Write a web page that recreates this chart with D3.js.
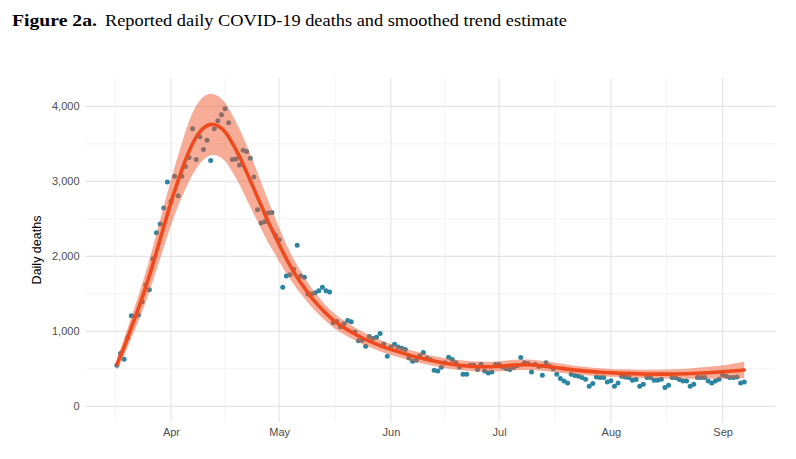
<!DOCTYPE html>
<html><head><meta charset="utf-8">
<script src="https://cdn.jsdelivr.net/npm/d3@7"></script>
<style>body{margin:0;background:#fff;}svg{display:block;}</style>
</head><body><svg id="chart" width="796" height="459"></svg>
<script>
// ---- data ----
const startDate = "2020-03-17";
const deaths = [548,705,629,914,1208,1200,1217,1396,1619,1556,
1966,2314,2431,2645,2993,2733,3068,2809,3068,3200,
3318,3701,3291,3595,3425,3549,3278,3701,3808,3889,
3969,3782,3291,3300,3220,3415,3398,3308,3059,2622,
2444,2461,2578,2586,2283,2221,1588,1739,1756,1829,
2149,1739,1722,1498,1498,1516,1543,1588,1543,1525,
1114,1133,1061,1100,1145,1128,990,874,883,803,
930,905,923,972,830,669,790,829,790,774,
758,645,600,615,675,718,645,620,482,472,
522,580,655,624,580,526,428,428,548,548,
491,562,472,446,459,558,558,526,500,491,
518,540,651,580,571,459,558,535,415,580,
535,500,428,370,339,312,428,410,401,384,
360,268,304,392,384,384,325,340,268,312,
401,390,384,348,357,268,294,384,384,348,
348,360,250,281,384,380,357,339,339,268,
294,384,384,384,339,312,339,360,419,401,
384,384,390,312,325];
const trendDays = [0,2,4,6,8,10,12,14,16,18,20,22,24,26,28,30,32,34,36,38,40,42,44,46,48,50,52,54,56,58,60,62,64,66,68,70,74,78,82,86,90,94,98,102,106,110,114,118,122,126,130,134,140,146,152,158,164,170,174];
const trendFit = [560,790,1050,1310,1590,1900,2230,2560,2870,3150,3400,3590,3710,3760,3740,3660,3510,3330,3120,2900,2680,2460,2260,2060,1880,1720,1580,1450,1340,1240,1150,1080,1020,965,915,870,790,730,670,625,585,555,535,528,535,550,555,540,515,490,470,455,440,432,430,435,448,468,485];
const trendLower = [480,680,910,1140,1390,1670,1970,2270,2550,2790,3000,3170,3290,3350,3340,3270,3130,2960,2760,2560,2370,2180,2020,1850,1700,1560,1440,1325,1225,1135,1050,985,930,880,833,790,715,658,600,557,519,490,470,462,467,480,485,474,453,432,415,401,386,376,370,367,368,373,375];
const trendUpper = [640,900,1190,1480,1790,2130,2490,2850,3190,3510,3800,4010,4130,4170,4140,4050,3890,3700,3480,3240,2990,2740,2500,2270,2060,1880,1720,1575,1455,1345,1250,1175,1110,1050,997,950,865,802,740,693,651,620,600,594,603,620,625,606,577,548,525,509,494,488,490,503,528,563,595];
const yTicks = [0,1000,2000,3000,4000];
const yMinor = [500,1500,2500,3500];
const monthTicks = ["2020-04-01","2020-05-01","2020-06-01","2020-07-01","2020-08-01","2020-09-01"];
const monthEdges = ["2020-03-01","2020-04-01","2020-05-01","2020-06-01","2020-07-01","2020-08-01","2020-09-01","2020-10-01"];
const monthLabels = ["Apr","May","Jun","Jul","Aug","Sep"];

// ---- setup ----
const svg = d3.select("#chart");
const parse = d3.timeParse("%Y-%m-%d");
const t0 = parse(startDate);
const dayToDate = d => d3.timeDay.offset(t0, d);
const pts = deaths.map((v,i)=>({date: dayToDate(i), v}));
const trend = trendDays.map((d,i)=>({date: dayToDate(d), v: trendFit[i], lo: trendLower[i], hi: trendUpper[i]}));

const panel = {left: 85.5, right: 775.5, top: 78, bottom: 422};
const nDays = deaths.length - 1;
const padDays = nDays * 0.05;
const x = d3.scaleTime()
  .domain([d3.timeHour.offset(t0, -padDays*24), d3.timeHour.offset(dayToDate(nDays), padDays*24)])
  .range([panel.left, panel.right]);
const yMaxData = d3.max(trendUpper), yMinData = 0;
const yPad = (yMaxData - yMinData) * 0.05;
const y = d3.scaleLinear().domain([yMinData - yPad, yMaxData + yPad]).range([panel.bottom, panel.top]);

// ---- grid ----
const grid = svg.append("g");
grid.selectAll(".ymin").data(yMinor).join("line")
  .attr("x1", panel.left).attr("x2", panel.right)
  .attr("y1", d=>y(d)).attr("y2", d=>y(d))
  .attr("stroke", "#EBEBEB").attr("stroke-width", 0.6);
grid.selectAll(".ymaj").data(yTicks).join("line")
  .attr("x1", panel.left).attr("x2", panel.right)
  .attr("y1", d=>y(d)).attr("y2", d=>y(d))
  .attr("stroke", "#E4E4E4").attr("stroke-width", 1.1);
const edges = monthEdges.map(parse);
const xMinor = [];
for (let i=0;i<edges.length-1;i++){ xMinor.push((x(edges[i])+x(edges[i+1]))/2); }
grid.selectAll(".xmin").data(xMinor.filter(v=>v>=panel.left && v<=panel.right+0.6)).join("line")
  .attr("x1", d=>d).attr("x2", d=>d)
  .attr("y1", panel.top).attr("y2", panel.bottom)
  .attr("stroke", "#EBEBEB").attr("stroke-width", 0.6);
grid.selectAll(".xmaj").data(monthTicks.map(parse)).join("line")
  .attr("x1", d=>x(d)).attr("x2", d=>x(d))
  .attr("y1", panel.top).attr("y2", panel.bottom)
  .attr("stroke", "#E4E4E4").attr("stroke-width", 1.1);

// ---- points ----
svg.append("g").selectAll("circle").data(pts).join("circle")
  .attr("cx", d=>x(d.date)).attr("cy", d=>y(d.v)).attr("r", 2.5)
  .attr("fill", "#2B84A0");

// ---- ribbon ----
const area = d3.area().x(d=>x(d.date)).y0(d=>y(d.lo)).y1(d=>y(d.hi)).curve(d3.curveCatmullRom);
svg.append("path").datum(trend).attr("d", area)
  .attr("fill", "#EE5A2F").attr("fill-opacity", 0.5);
// ---- line ----
const line = d3.line().x(d=>x(d.date)).y(d=>y(d.v)).curve(d3.curveCatmullRom);
svg.append("path").datum(trend).attr("d", line)
  .attr("fill", "none").attr("stroke", "#EF4A1E").attr("stroke-width", 3.6)
  .attr("stroke-linecap", "round");

// ---- axes ----
const axFont = "'Liberation Sans', Arial, sans-serif";
const yAxis = svg.append("g").attr("transform", `translate(${panel.left},0)`)
  .call(d3.axisLeft(y).tickValues(yTicks).tickFormat(d3.format(",")).tickSize(0).tickPadding(6));
yAxis.select(".domain").remove();
yAxis.selectAll("text").attr("fill", "#4D4D4D").attr("font-size", 11).attr("font-family", axFont);

const xAxis = svg.append("g").attr("transform", `translate(0,${panel.bottom})`)
  .call(d3.axisBottom(x).tickValues(monthTicks.map(parse)).tickFormat((d,i)=>monthLabels[i]).tickSize(0).tickPadding(6));
xAxis.select(".domain").remove();
xAxis.selectAll("text").attr("fill", "#4D4D4D").attr("font-size", 11).attr("font-family", axFont);

svg.append("text")
  .attr("transform", `translate(41,${(panel.top+panel.bottom)/2}) rotate(-90)`)
  .attr("text-anchor", "middle").attr("font-size", 12.5).attr("font-family", axFont)
  .attr("fill", "#000").text("Daily deaths");

// ---- title ----
const serif = "'Liberation Serif', 'DejaVu Serif', serif";
svg.append("text").attr("x", 12).attr("y", 26)
  .attr("font-family", serif).attr("font-size", 17).attr("font-weight", "bold").attr("fill", "#000")
  .attr("textLength", 85).attr("lengthAdjust", "spacingAndGlyphs")
  .text("Figure 2a.");
svg.append("text").attr("x", 105).attr("y", 26)
  .attr("font-family", serif).attr("font-size", 17).attr("fill", "#000")
  .attr("textLength", 462).attr("lengthAdjust", "spacingAndGlyphs")
  .text("Reported daily COVID-19 deaths and smoothed trend estimate");
</script></body></html>
